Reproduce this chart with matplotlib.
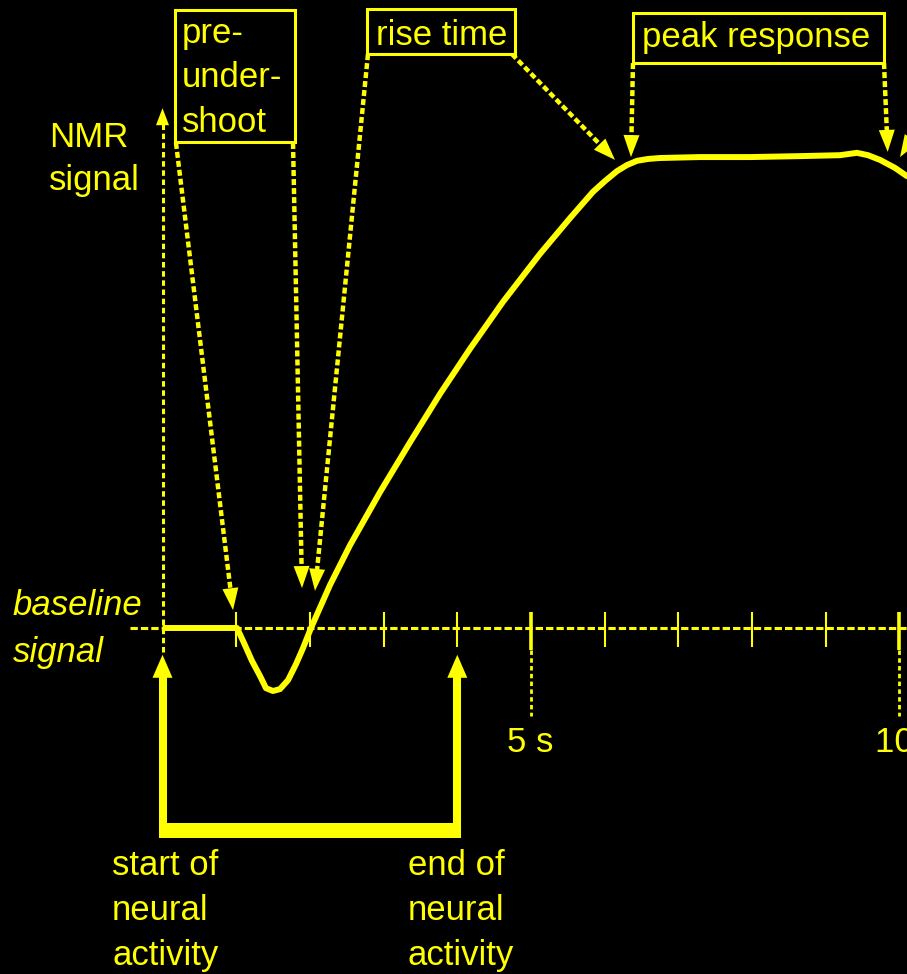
import numpy as np
import matplotlib
matplotlib.use("Agg")
import matplotlib.pyplot as plt
from matplotlib.patches import Polygon, Rectangle

# Haemodynamic (BOLD) response: time in seconds, signal relative to baseline (plateau = 1)
time_s = [0.0, 1.011, 1.106, 1.214, 1.323, 1.404, 1.499, 1.594, 1.703, 1.811,
          1.906, 2.015, 2.273, 2.544, 2.951, 3.358, 3.765, 4.172, 4.620, 5.122,
          5.529, 5.841, 6.004, 6.166, 6.302, 6.438, 6.588, 6.750, 7.29, 7.97,
          8.65, 9.193, 9.423, 9.573, 9.735, 9.939, 10.142]
signal = [0.0, 0.0, -0.032, -0.070, -0.102, -0.128, -0.134, -0.130, -0.111,
          -0.077, -0.043, 0.0, 0.0915, 0.176, 0.289, 0.395, 0.498, 0.594, 0.694,
          0.796, 0.872, 0.928, 0.951, 0.972, 0.985, 0.994, 0.998, 1.0, 1.002,
          1.002, 1.004, 1.006, 1.011, 1.006, 0.996, 0.979, 0.957]

# Neural activity period (s)
activity_start = 0.0
activity_end = 4.0

# Time axis
tick_times = [1, 2, 3, 4, 5, 6, 7, 8, 9, 10]
labelled_ticks = [5, 10]
tick_labels = ["5 s", "10 s"]

YELLOW = "#ffff00"
plt.rcParams["font.family"] = ["Liberation Sans", "DejaVu Sans"]
FS = 25

fig = plt.figure(figsize=(9.07, 9.74), dpi=100, facecolor="black")
ax = fig.add_axes([0, 0, 1, 1])
ax.set_facecolor("black")
ax.set_xlim(-2.205, 10.102)
ax.set_ylim(-0.7362, 1.3362)
ax.axis("off")


def arrow(start, tip, lw, head_len, head_half, dashes=None, zorder=3):
    """Line from start to tip (data coords) with a filled head sized in pixels."""
    to_px = ax.transData.transform
    from_px = ax.transData.inverted().transform
    p0 = to_px(start)
    p1 = to_px(tip)
    d = p1 - p0
    u = d / np.hypot(*d)
    n = np.array([-u[1], u[0]])
    base = p1 - u * head_len
    tri = np.array([p1, base + n * head_half, base - n * head_half])
    ax.add_patch(Polygon(from_px(tri), closed=True, facecolor=YELLOW,
                         edgecolor="none", zorder=zorder))
    end = from_px(base + u * 2)
    ls = "-" if dashes is None else (0, dashes)
    ax.plot([start[0], end[0]], [start[1], end[1]], color=YELLOW, lw=lw,
            linestyle=ls, dash_capstyle="butt", solid_capstyle="butt",
            zorder=zorder)


def stacked(x, y, text, step, **kw):
    """Multi-line label; y is the baseline of the first line, step the line pitch."""
    for i, line in enumerate(text.split("\n")):
        ax.text(x, y - i * step, line, color=YELLOW, fontsize=FS,
                ha="left", va="baseline", **kw)


# Signal axis (dotted, pointing up)
arrow((0.0, -0.051), (0.0, 1.106), lw=2.2, head_len=17, head_half=6.5,
      dashes=(1.8, 1.2), zorder=2)

# Baseline (dotted)
ax.plot([-0.44, 10.3], [0, 0], color=YELLOW, lw=2.2,
        linestyle=(0, (2.4, 1.0)), dash_capstyle="butt", zorder=2)

# Tick marks
for t in tick_times:
    if t in labelled_ticks:
        ax.plot([t, t], [0.034, -0.047], color=YELLOW, lw=2.6,
                solid_capstyle="butt", zorder=2)
        ax.plot([t, t], [-0.047, -0.187], color=YELLOW, lw=2.0,
                linestyle=(0, (1.6, 1.2)), dash_capstyle="butt", zorder=2)
    else:
        ax.plot([t, t], [0.034, -0.040], color=YELLOW, lw=1.5,
                solid_capstyle="butt", zorder=2)
for t, lab in zip(labelled_ticks, tick_labels):
    stacked(t - 0.33, -0.264, lab, 0)

# Response curve
ax.plot(time_s, signal, color=YELLOW, lw=4.3, solid_joinstyle="round",
        solid_capstyle="butt", zorder=4)

# Neural activity bracket with arrows at onset and offset
bar_level = -0.43
arrow_top = -0.057
ax.plot([activity_start, activity_end], [bar_level, bar_level], color=YELLOW,
        lw=10.8, solid_capstyle="butt", zorder=3)
for t in (activity_start, activity_end):
    arrow((t, bar_level - 0.016), (t, arrow_top), lw=5.8, head_len=23,
          head_half=10)

# Annotation boxes
boxes = [
    ((0.170, 1.034), 1.628, 0.281),   # pre-undershoot
    ((2.775, 1.221), 2.008, 0.096),   # rise time
    ((6.384, 1.202), 3.405, 0.107),   # peak response
]
for (x0, y0), w, h in boxes:
    ax.add_patch(Rectangle((x0, y0), w, h, fill=False, edgecolor=YELLOW,
                           lw=2.2, zorder=3))

# Dotted pointer arrows
pointers = [
    ((0.183, 1.032), (0.957, 0.038)),
    ((1.771, 1.032), (1.893, 0.085)),
    ((2.788, 1.221), (2.069, 0.079)),
    ((4.742, 1.221), (6.140, 0.996)),
    ((6.384, 1.202), (6.357, 1.002)),
    ((9.790, 1.202), (9.840, 1.013)),
    ((10.82, 1.208), (10.007, 1.002)),
]
for start, tip in pointers:
    arrow(start, tip, lw=3.2, head_len=22, head_half=8, dashes=(1.35, 0.68))

# Labels
stacked(0.265, 1.245, "pre-\nunder-\nshoot", 0.0947)
stacked(2.897, 1.240, "rise time", 0)
stacked(6.506, 1.236, "peak response", 0)
stacked(-1.54, 1.023, "NMR\nsignal", 0.0915)
stacked(-2.03, 0.028, "baseline\nsignal", 0.100, style="italic")
stacked(-0.685, -0.5255, "start of\nneural\nactivity", 0.0957)
stacked(3.33, -0.5255, "end of\nneural\nactivity", 0.0957)

fig.savefig("out.png", dpi=100, facecolor="black")
